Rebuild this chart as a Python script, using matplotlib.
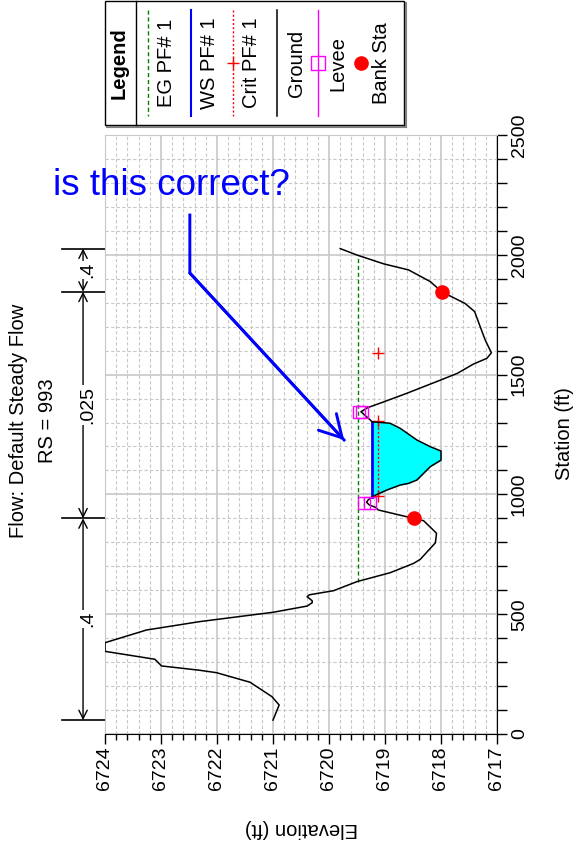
import numpy as np
import matplotlib.pyplot as plt
import matplotlib.transforms as mtrans
from matplotlib.ticker import MultipleLocator, FormatStrFormatter
from matplotlib.patches import Rectangle

plt.rcParams['font.family'] = ['Liberation Sans', 'DejaVu Sans']

# ---- cross-section data (station ft, elevation ft) ----
ground_sta = [58, 121, 156, 216, 256, 266, 284, 312, 345, 381,
              434, 469, 508, 531, 534, 548, 556, 573, 581, 598,
              636, 673, 712, 729, 798, 838, 890, 900, 935, 945,
              956, 967, 977, 990, 1018, 1039, 1046, 1060, 1116, 1143,
              1181, 1199, 1227, 1276, 1297, 1303, 1310, 1345, 1362, 1383,
              1422, 1477, 1505, 1544, 1568, 1591, 1644, 1700, 1763, 1797,
              1846, 1888, 1937, 1962, 1999, 2026]
ground_elev = [6721.00, 6720.89, 6721.02, 6721.41, 6722.01, 6722.31, 6722.99, 6723.11, 6724.00, 6724.00,
               6723.26, 6722.31, 6721.00, 6720.46, 6720.39, 6720.30, 6720.30, 6720.39, 6720.35, 6719.92,
               6719.50, 6718.91, 6718.49, 6718.37, 6718.10, 6718.08, 6718.31, 6718.49, 6719.12, 6719.16,
               6719.28, 6719.33, 6719.30, 6719.235, 6718.97, 6718.73, 6718.58, 6718.43, 6718.19, 6718.00,
               6718.00, 6718.19, 6718.43, 6718.73, 6718.91, 6719.235, 6719.26, 6719.43, 6719.31, 6719.06,
               6718.61, 6718.01, 6717.71, 6717.42, 6717.18, 6717.10, 6717.21, 6717.30, 6717.40, 6717.57,
               6717.99, 6718.19, 6718.58, 6719.02, 6719.50, 6719.80]

bank_sta = [900, 1846]
bank_elev = [6718.49, 6717.99]

levee_sta = [963, 963, 1343, 1343]
levee_elev = [6719.38, 6719.26, 6719.47, 6719.41]

ws_sta = [990, 1303]
ws_elev = 6719.235
eg_sta = [636, 1999]
eg_elev = 6719.48
crit_sta = [992, 1305, np.nan, 1591]
crit_elev = [6719.12, 6719.12, np.nan, 6719.12]

n_bounds = [58, 900, 1846, 2026]
n_values = ['.4', '.025', '.4']

# annotation (elevation, station)
note_path_elev = [6722.485, 6722.485, 6719.73]
note_path_sta = [2166, 1924, 1227]

W, H = 576, 849
fig = plt.figure(figsize=(W / 100, H / 100), dpi=100)
ax = fig.add_axes([105 / W, 1 - 734 / H, 392 / W, 599 / H])

gsta = np.array(ground_sta, float)
gel = np.array(ground_elev, float)

# water fill
m = (gsta >= ws_sta[0]) & (gsta <= ws_sta[1])
ax.fill_betweenx(gsta[m], ws_elev, gel[m], color='cyan', lw=0, zorder=2)
ax.plot([ws_elev, ws_elev], ws_sta, color='blue', lw=2, zorder=3)
ax.plot([eg_elev, eg_elev], eg_sta, color='green', lw=1, ls=(0, (3, 2)), zorder=3)
ax.plot(crit_elev, crit_sta, color='red', lw=1, ls=(0, (1.5, 1.5)),
        marker='+', ms=9, mew=1, zorder=3)
ax.plot(gel, gsta, color='black', lw=1.1, zorder=4)
ax.plot(levee_elev, levee_sta, ls='none', marker='s', ms=9, mfc='none',
        mec='magenta', mew=1, zorder=5)
ax.plot(bank_elev, bank_sta, ls='none', marker='o', ms=9.5, color='red', zorder=6)

ax.set_xlim(6724, 6717)
ax.set_ylim(0, 2500)
ax.xaxis.set_major_locator(MultipleLocator(1))
ax.xaxis.set_minor_locator(MultipleLocator(0.2))
ax.xaxis.set_major_formatter(FormatStrFormatter('%d'))
ax.yaxis.set_major_locator(MultipleLocator(500))
ax.yaxis.set_minor_locator(MultipleLocator(100))
ax.yaxis.tick_right()
ax.tick_params(axis='x', which='major', length=7, width=1, labelsize=14,
               labelrotation=90, pad=2)
ax.tick_params(axis='x', which='minor', length=4, width=1)
ax.tick_params(axis='y', which='both', length=7, width=1, labelsize=14,
               labelrotation=90, pad=3)
plt.setp(ax.get_yticklabels(), va='center')

ax.set_axisbelow(True)
ax.grid(which='major', color='#c8c8c8', lw=1.2, ls='-')
ax.grid(which='minor', color='#c8c8c8', lw=0.8, ls=(0, (3, 2)))
for s in ['top', 'left']:
    ax.spines[s].set_color('#c8c8c8')
for s in ['right', 'bottom']:
    ax.spines[s].set_color('black')

# manning's n bar on the left
trans = mtrans.blended_transform_factory(ax.transAxes, ax.transData)
for s in n_bounds:
    ax.plot([-0.11, 0], [s, s], transform=trans, color='black', lw=1.2, clip_on=False)
for i, nv in enumerate(n_values):
    ax.annotate('', xy=(-0.056, n_bounds[i]), xytext=(-0.056, n_bounds[i + 1]),
                xycoords=trans, textcoords=trans, annotation_clip=False,
                arrowprops=dict(arrowstyle='<->,head_length=0.6,head_width=0.3',
                                lw=1, color='black', shrinkA=0, shrinkB=0))
    ax.text(-0.033, (n_bounds[i] + n_bounds[i + 1]) / 2, nv, transform=trans,
            rotation=90, rotation_mode='anchor', ha='center', va='baseline',
            fontsize=14, bbox=dict(fc='white', ec='none', pad=0.5),
            zorder=6, clip_on=False)

# titles and axis labels (rotated page)
fig.text(24 / W, 1 - 421 / H, 'Flow: Default Steady Flow', rotation=90,
         rotation_mode='anchor', ha='center', va='baseline', fontsize=14.5)
fig.text(53 / W, 1 - 421 / H, 'RS = 993', rotation=90,
         rotation_mode='anchor', ha='center', va='baseline', fontsize=14.5)
fig.text(570 / W, 1 - 434 / H, 'Station (ft)', rotation=90,
         rotation_mode='anchor', ha='center', va='baseline', fontsize=14.5)
fig.text(301 / W, 1 - 823 / H, 'Elevation (ft)', rotation=180,
         rotation_mode='anchor', ha='center', va='baseline', fontsize=14.5)

# the question annotation
ax.plot(note_path_elev, note_path_sta, color='blue', lw=2.1, clip_on=False,
        solid_joinstyle='miter', zorder=8)
ax.annotate('', xy=(note_path_elev[2], note_path_sta[2]),
            xytext=(note_path_elev[1], note_path_sta[1]), annotation_clip=False,
            arrowprops=dict(arrowstyle='->,head_length=0.78,head_width=0.44',
                            mutation_scale=20, lw=2.1, color='blue',
                            shrinkA=0, shrinkB=0), zorder=8)
fig.text(53 / W, 1 - 195 / H, 'is this correct?', color='blue', fontsize=26.5,
         ha='left', va='baseline')

# legend drawn in page pixels
lax = fig.add_axes([0, 0, 1, 1])
lax.set_xlim(0, W)
lax.set_ylim(H, 0)
lax.axis('off')
lax.plot([405.5, 405.5], [3, 126.5], color='#808080', lw=1.5)
lax.plot([107, 405.5], [126.5, 126.5], color='#808080', lw=1.5)
lax.add_patch(Rectangle((105, 1), 299, 124, fc='white', ec='black', lw=1))
lax.plot([136, 136], [1, 125], color='black', lw=1)
lax.text(125, 63, 'Legend', rotation=90, rotation_mode='anchor', ha='center',
         va='baseline', fontsize=14.5, fontweight='bold')

leg_y = [10, 116]
lax.plot([148, 148], leg_y, color='green', lw=1, ls=(0, (3, 2)))
lax.plot([191, 191], leg_y, color='blue', lw=1.5)
lax.plot([233, 233], leg_y, color='red', lw=1, ls=(0, (1.5, 1.5)))
lax.plot([233], [63], marker='+', ms=9, mew=1, color='red')
lax.plot([277, 277], leg_y, color='black', lw=1.1)
lax.plot([318, 318], leg_y, color='magenta', lw=1)
lax.plot([318], [63], marker='s', ms=10, mfc='none', mec='magenta', mew=1)
lax.plot([361], [63], marker='o', ms=9.5, color='red')

for label, bx in [('EG PF# 1', 172), ('WS PF# 1', 215), ('Crit PF# 1', 257),
                  ('Ground', 302), ('Levee', 343), ('Bank Sta', 387)]:
    lax.text(bx, 63, label, rotation=90, rotation_mode='anchor', ha='center',
             va='baseline', fontsize=14.5)

fig.savefig('out.png', dpi=100, facecolor='white')
